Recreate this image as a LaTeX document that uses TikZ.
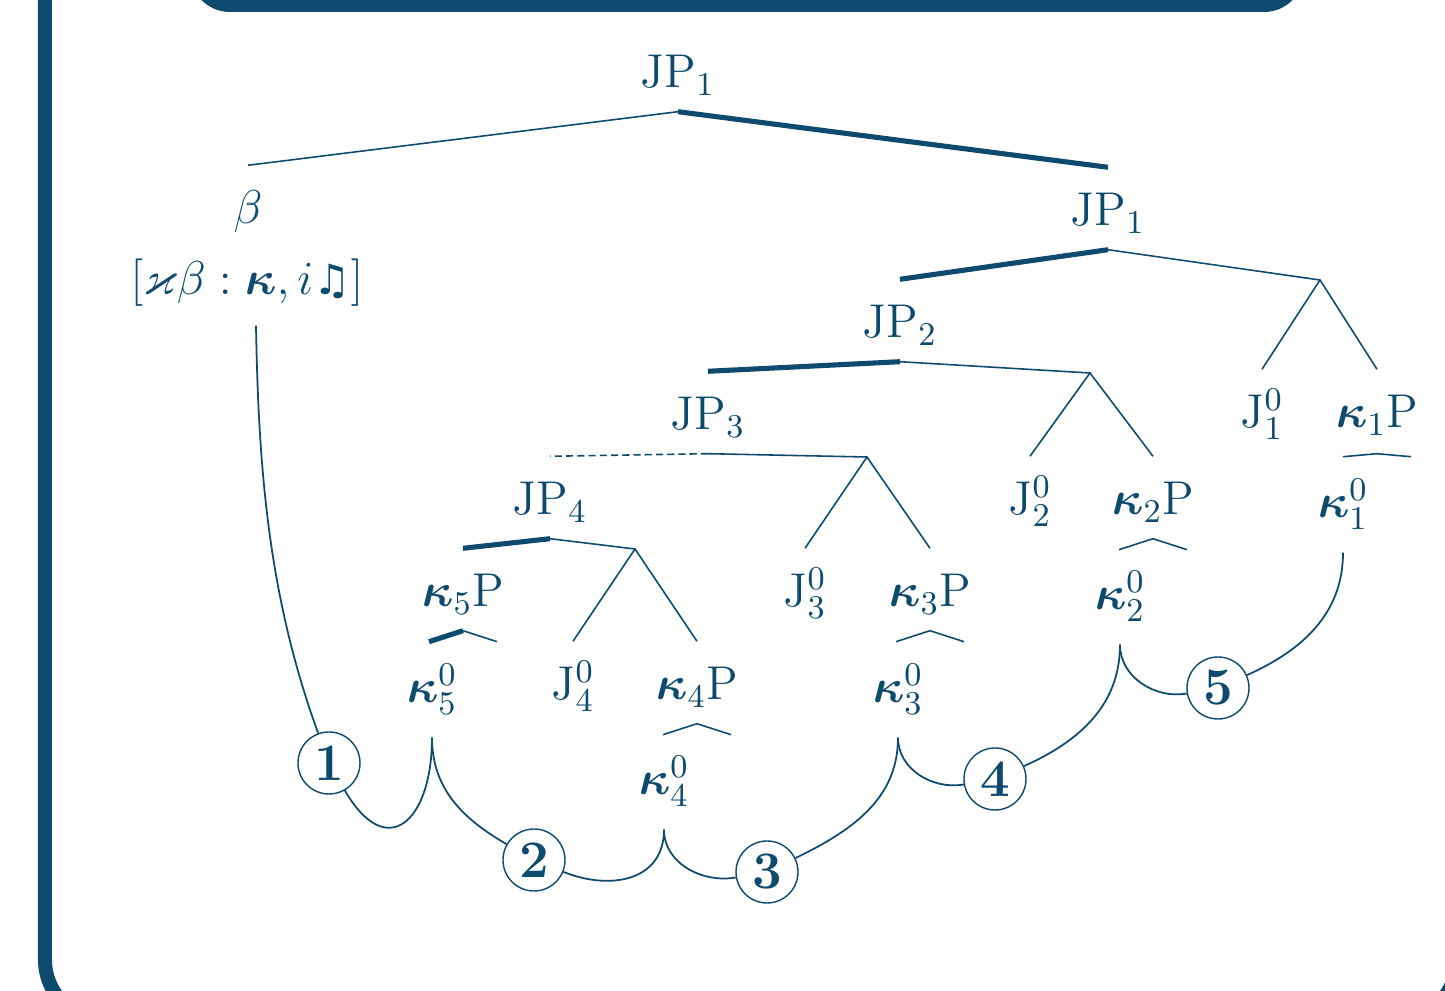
\RequirePackage{fix-cm}
\documentclass[tikz,border=0pt]{standalone}
\usepackage{amsmath, amssymb}
\usepackage{bm}
\usepackage{fontspec}
\usepackage{xcolor}
\usepackage{tikz}
\usetikzlibrary{positioning, calc}
\newfontfamily\notefont{DejaVu Sans}
\definecolor{slideBlue}{HTML}{0E4A6E}
\tikzset{
    tree_lbl/.style={
        anchor=base, inner sep=0pt, text height=0.58cm, text depth=0.23cm,
        text=slideBlue, font=\fontsize{13.5}{16}\selectfont
    },
    head_lbl/.style={tree_lbl, text depth=0.34cm},
    branch_thin/.style={draw=slideBlue, line width=0.45pt},
    branch_thick/.style={draw=slideBlue, line width=1.45pt},
    branch_dash/.style={draw=slideBlue, line width=0.45pt, dash pattern=on 2pt off 1.2pt},
    step_circ/.style={
        circle, draw=slideBlue, line width=0.4pt, fill=white,
        minimum size=0.62cm, inner sep=0pt, text=slideBlue,
        font=\fontsize{15}{15}\selectfont\bfseries
    },
    move_link/.style={draw=slideBlue, line width=0.5pt},
    frame_line/.style={draw=slideBlue, line width=0.14cm, rounded corners=0.6cm}
}

\begin{document}
\begin{tikzpicture}
    \useasboundingbox (0,0) rectangle (14.45,-9.91);
    \clip (0,0) rectangle (14.45,-9.91);

    % Slide frame and title bar
    \draw[frame_line] (0.45,0.8) rectangle (14.57,-10.20);
    \fill[slideBlue, rounded corners=0.4cm] (1.90,0.6) rectangle (13.04,-0.12);

    % Upper part of the tree
    \node[tree_lbl] (jp1) at (6.78,-0.88) {JP$_1$};
    \node[tree_lbl] (beta) at (2.48,-2.24) {$\beta$};
    \node[tree_lbl, text height=0.4cm, text depth=0.23cm] (feat) at (2.47,-2.95) {$[\varkappa\beta : \bm{\kappa}, i\text{\notefont\scalebox{0.88}{♫}}]$};
    \node[tree_lbl] (jp1b) at (11.08,-2.26) {JP$_1$};
    \node[tree_lbl] (jp2) at (9.00,-3.38) {JP$_2$};
    \node[tree_lbl] (jp3) at (7.08,-4.30) {JP$_3$};
    \node[tree_lbl] (jp4) at (5.50,-5.15) {JP$_4$};

    % Heads and their phrases
    \node[tree_lbl] (j1) at (12.62,-4.28) {J$^0_1$};
    \node[tree_lbl] (k1p) at (13.77,-4.28) {$\bm{\kappa}_1$P};
    \node[head_lbl] (k1z) at (13.43,-5.18) {$\bm{\kappa}^0_1$};
    \node[tree_lbl] (j2) at (10.30,-5.15) {J$^0_2$};
    \node[tree_lbl] (k2p) at (11.53,-5.15) {$\bm{\kappa}_2$P};
    \node[head_lbl] (k2z) at (11.20,-6.10) {$\bm{\kappa}^0_2$};
    \node[tree_lbl] (j3) at (8.05,-6.07) {J$^0_3$};
    \node[tree_lbl] (k3p) at (9.30,-6.07) {$\bm{\kappa}_3$P};
    \node[head_lbl] (k3z) at (8.98,-7.03) {$\bm{\kappa}^0_3$};
    \node[tree_lbl] (k5p) at (4.63,-6.07) {$\bm{\kappa}_5$P};
    \node[head_lbl] (k5z) at (4.32,-7.03) {$\bm{\kappa}^0_5$};
    \node[tree_lbl] (j4) at (5.73,-7.00) {J$^0_4$};
    \node[tree_lbl] (k4p) at (6.97,-7.00) {$\bm{\kappa}_4$P};
    \node[head_lbl] (k4z) at (6.64,-7.95) {$\bm{\kappa}^0_4$};

    % Unlabelled branch points
    \coordinate (jbar1) at (13.20,-2.80);
    \coordinate (jbar2) at (10.90,-3.73);
    \coordinate (jbar3) at (8.67,-4.57);
    \coordinate (jbar4) at (6.35,-5.49);

    % Movement steps
    \node[step_circ] (c1) at (3.29,-7.63) {1};
    \node[step_circ] (c2) at (5.34,-8.60) {2};
    \node[step_circ] (c3) at (7.67,-8.72) {3};
    \node[step_circ] (c4) at (9.95,-7.79) {4};
    \node[step_circ] (c5) at (12.18,-6.88) {5};

    % Branches
    \draw[branch_thin] (jp1.south) -- (beta.north);
    \draw[branch_thick] (jp1.south) -- (jp1b.north);
    \draw[branch_thick] (jp1b.south) -- (jp2.north);
    \draw[branch_thin] (jp1b.south) -- (jbar1);
    \draw[branch_thin] (j1.north) -- (jbar1) -- (k1p.north);
    \draw[branch_thick] (jp2.south) -- (jp3.north);
    \draw[branch_thin] (jp2.south) -- (jbar2);
    \draw[branch_thin] (j2.north) -- (jbar2) -- (k2p.north);
    \draw[branch_dash] (jp3.south) -- (jp4.north);
    \draw[branch_thin] (jp3.south) -- (jbar3);
    \draw[branch_thin] (j3.north) -- (jbar3) -- (k3p.north);
    \draw[branch_thick] (jp4.south) -- (k5p.north);
    \draw[branch_thin] (jp4.south) -- (jbar4);
    \draw[branch_thin] (j4.north) -- (jbar4) -- (k4p.north);

    % Roofs over the heads
    \draw[branch_thin] ([xshift=-0.34cm,yshift=-0.05cm]k1p.south) -- ([yshift=-0.02cm]k1p.south) -- ([xshift=0.34cm,yshift=-0.05cm]k1p.south);
    \draw[branch_thin] ([xshift=-0.34cm,yshift=-0.11cm]k2p.south) -- (k2p.south) -- ([xshift=0.34cm,yshift=-0.11cm]k2p.south);
    \draw[branch_thin] ([xshift=-0.34cm,yshift=-0.11cm]k3p.south) -- (k3p.south) -- ([xshift=0.34cm,yshift=-0.11cm]k3p.south);
    \draw[branch_thin] ([xshift=-0.34cm,yshift=-0.11cm]k4p.south) -- (k4p.south) -- ([xshift=0.34cm,yshift=-0.11cm]k4p.south);
    \draw[branch_thick] ([xshift=-0.34cm,yshift=-0.11cm]k5p.south) -- (k5p.south);
    \draw[branch_thin] (k5p.south) -- ([xshift=0.34cm,yshift=-0.11cm]k5p.south);

    % Movement path through the steps
    \draw[move_link] ([xshift=0.09cm,yshift=-0.07cm]feat.south) to[out=-89, in=110, looseness=0.9] (c1);
    \draw[move_link] (c1) to[out=-60, in=-90, looseness=2.1] (k5z.south);
    \draw[move_link] (k5z.south) to[out=-90, in=150] (c2);
    \draw[move_link] (c2) to[out=-22, in=-90, looseness=1.2] (k4z.south);
    \draw[move_link] (k4z.south) to[out=-90, in=190] (c3);
    \draw[move_link] (c3) to[out=26, in=-90] (k3z.south);
    \draw[move_link] (k3z.south) to[out=-90, in=190] (c4);
    \draw[move_link] (c4) to[out=24, in=-90] (k2z.south);
    \draw[move_link] (k2z.south) to[out=-90, in=190] (c5);
    \draw[move_link] (c5) to[out=24, in=-90] (k1z.south);
\end{tikzpicture}
\end{document}
